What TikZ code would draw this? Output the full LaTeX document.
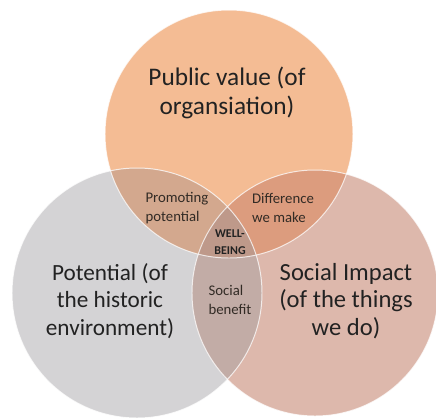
\documentclass[tikz,border=0pt]{standalone}
\usepackage{fontspec}
\setmainfont{Carlito}
\usetikzlibrary{positioning}
\definecolor{valuefill}{HTML}{F4BC94}
\definecolor{potfill}{HTML}{D4D3D5}
\definecolor{impfill}{HTML}{DDB8AC}
\definecolor{promfill}{HTML}{D3A88E}
\definecolor{difffill}{HTML}{DC9C7E}
\definecolor{benefill}{HTML}{C2ACA6}
\definecolor{wellfill}{HTML}{BE998A}
\definecolor{inktext}{HTML}{222222}

\begin{document}
\begin{tikzpicture}[x=0.025cm,y=-0.025cm,
      big/.style={align=center,font=\fontsize{18}{21}\selectfont,text=inktext},
      small/.style={align=left,font=\fontsize{10.5}{14}\selectfont,text=inktext!90!brown},
      tiny/.style={align=center,font=\fontsize{8.5}{12}\selectfont\bfseries,text=inktext},
      rim/.style={draw=white,line width=0.7pt,opacity=0.75}]
      \useasboundingbox (0,0) rectangle (436,417);
      \coordinate (c_v) at (229,134);
      \coordinate (c_p) at (137,293);
      \coordinate (c_s) at (315,293);
      % the three sets
      \fill[valuefill] (c_v) circle (124);
      \fill[potfill] (c_p) circle (125);
      \fill[impfill] (c_s) circle (123);
      % overlaps
      \begin{scope}
        \clip (c_v) circle (124);
        \fill[promfill] (c_p) circle (125);
        \fill[difffill] (c_s) circle (123);
      \end{scope}
      \begin{scope}
        \clip (c_p) circle (125);
        \fill[benefill] (c_s) circle (123);
        \clip (c_v) circle (124);
        \fill[wellfill] (c_s) circle (123);
      \end{scope}
      \draw[rim] (c_v) circle (124);
      \draw[rim] (c_p) circle (125);
      \draw[rim] (c_s) circle (123);
      % labels
      \node[big] (value) at (227,93) {Public value (of\\organsiation)};
      \node[big,font=\fontsize{16.5}{19.5}\selectfont] (potential) at (110,301) {Potential (of\\the historic\\environment)};
      \node[big,font=\fontsize{17.5}{19.5}\selectfont] (impact) at (346,301) {Social Impact\\(of the things\\we do)};
      \node[small] (promote) at (177,208) {Promoting\\potential};
      \node[small] (diff) at (283,208) {Difference\\we make};
      \node[tiny] (well) at (230,242) {WELL-\\BEING};
      \node[small] (benefit) at (230,300) {Social\\benefit};
\end{tikzpicture}
\end{document}
